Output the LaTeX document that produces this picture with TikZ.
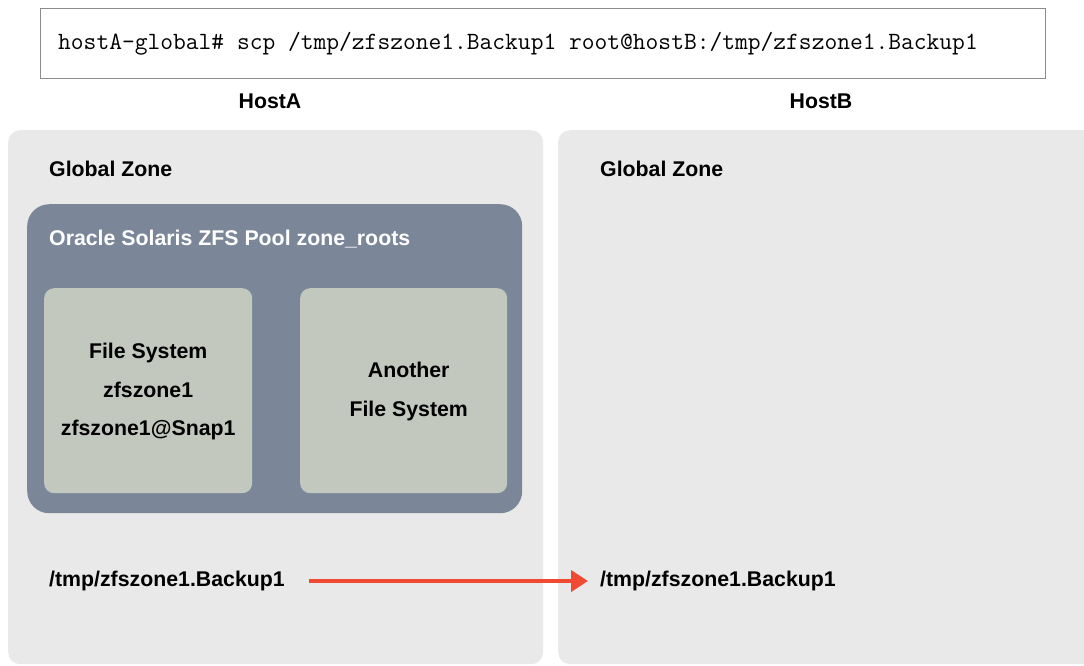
\documentclass[tikz,border=0pt]{standalone}
\usepackage{fontspec}
\setmainfont{Liberation Sans}
\usepackage{xcolor}
\usepackage{tikz}
\usetikzlibrary{positioning, arrows.meta}

\definecolor{zonegray}{HTML}{E9E9E9}
\definecolor{poolblue}{HTML}{7B8799}
\definecolor{fsgreen}{HTML}{C3C8BF}
\definecolor{cmdframe}{HTML}{8C8C8C}
\definecolor{copyred}{HTML}{F04A33}

\begin{document}
\begin{tikzpicture}[x=1pt,y=-1pt]
	\tikzstyle{zonebox}=[fill=zonegray,rounded corners=12pt,anchor=north west,inner sep=0pt]
	\tikzstyle{poolbox}=[fill=poolblue,rounded corners=22pt,anchor=north west,inner sep=0pt]
	\tikzstyle{fsbox}=[fill=fsgreen,rounded corners=10pt,anchor=north west,inner sep=0pt]
	\tikzstyle{lbl}=[font=\fontsize{21.3}{25}\selectfont\bfseries,inner sep=0pt]
	\tikzstyle{fstext}=[lbl,align=center,font=\fontsize{21.3}{38.5}\selectfont\bfseries]
	\useasboundingbox (0,0) rectangle (1084,665);
	\clip (0,0) rectangle (1084,665);
	% command line
	\node[draw=cmdframe,line width=1pt,anchor=north west,minimum width=1005pt,minimum height=70pt,inner sep=0pt](cmdbox) at (40,8){};
	\node[anchor=west,inner sep=0pt,font=\fontsize{24.8}{28}\selectfont\ttfamily](cmd) at (58,44)
		{hostA-global\# scp /tmp/zfszone1.Backup1 root@hostB:/tmp/zfszone1.Backup1};
	% hosts
	\node[lbl](hostA) at (270,101){HostA};
	\node[lbl](hostB) at (821,101){HostB};
	\node[zonebox,minimum width=535pt,minimum height=534pt](zoneA) at (8,130){};
	\node[zonebox,minimum width=545pt,minimum height=534pt](zoneB) at (558,130){};
	\node[lbl,anchor=west](gzA) at (49,169){Global Zone};
	\node[lbl,anchor=west](gzB) at (600,169){Global Zone};
	% pool
	\node[poolbox,minimum width=495pt,minimum height=309pt](pool) at (27,204){};
	\node[lbl,anchor=west,text=white](pooltitle) at (49,239){Oracle Solaris ZFS Pool zone\_roots};
	\node[fsbox,minimum width=208pt,minimum height=205pt](fs1) at (44,288){};
	\node[fsbox,minimum width=207pt,minimum height=205pt](fs2) at (300,288){};
	\node[fstext](fs1text) at ([yshift=-1pt]fs1.center){File System\\zfszone1\\zfszone1@Snap1};
	\node[fstext](fs2text) at ([xshift=5pt,yshift=-1pt]fs2.center){Another\\File System};
	% backup copy
	\node[lbl,anchor=west](bkA) at (49,581){/tmp/zfszone1.Backup1};
	\node[lbl,anchor=west](bkB) at (600,581){/tmp/zfszone1.Backup1};
	\draw[copyred,line width=4pt,-{Triangle[length=17pt,width=21pt]},shorten <=24pt,shorten >=12pt] (bkA.east) -- (bkB.west);
\end{tikzpicture}
\end{document}
